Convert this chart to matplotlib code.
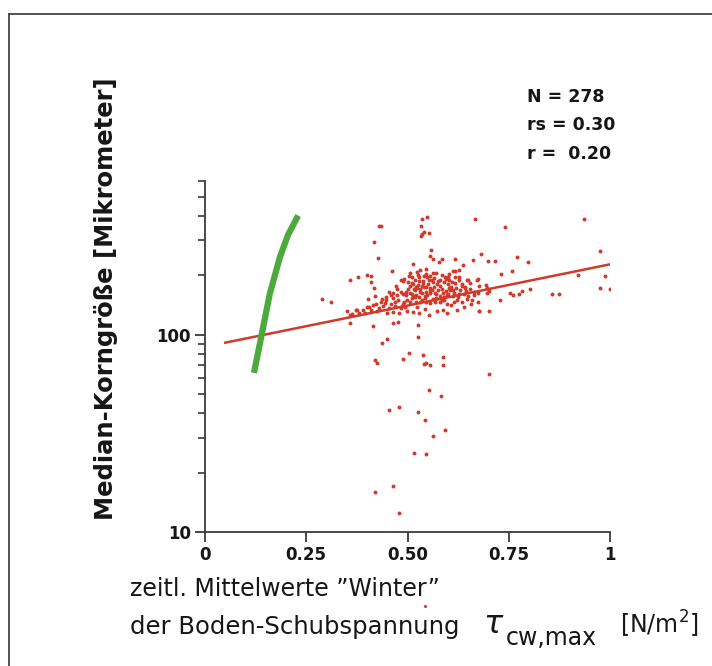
import matplotlib
matplotlib.use("Agg")
import matplotlib.pyplot as plt
from matplotlib.ticker import LogLocator, NullFormatter, FixedLocator
from matplotlib.lines import Line2D

plt.rcParams["font.family"] = ["DejaVu Sans"]

W, H = 712, 666

# scatter points: bottom shear stress (N/m2) vs median grain size (micrometer)
tau_x = [
    0.430, 0.434, 0.535, 0.547, 0.533, 0.535, 0.541, 0.552, 0.533, 0.667,
    0.741, 0.936, 0.418, 0.426, 0.557, 0.555, 0.564, 0.578, 0.584, 0.617,
    0.638, 0.661, 0.681, 0.698, 0.717, 0.770, 0.798, 0.975, 0.757, 0.730,
    0.920, 0.988, 0.975, 1.000, 0.856, 0.874, 0.802, 0.782, 0.760, 0.753,
    0.728, 0.700, 0.677, 0.700, 0.290, 0.310, 0.357, 0.378, 0.401, 0.409,
    0.411, 0.418, 0.462, 0.350, 0.357, 0.358, 0.375, 0.389, 0.399, 0.402,
    0.416, 0.436, 0.450, 0.465, 0.477, 0.420, 0.425, 0.488, 0.504, 0.525,
    0.526, 0.539, 0.541, 0.546, 0.556, 0.588, 0.588, 0.554, 0.583, 0.455,
    0.479, 0.527, 0.542, 0.593, 0.562, 0.516, 0.546, 0.465, 0.419, 0.480,
    0.513,
    # dense core (upper part)
    0.618, 0.628, 0.484, 0.489, 0.504, 0.512, 0.519, 0.527, 0.529, 0.538,
    0.548, 0.556, 0.560, 0.576, 0.595, 0.603, 0.618, 0.626, 0.648, 0.671,
    0.654, 0.472,
    0.545, 0.581, 0.602, 0.613, 0.634, 0.641, 0.496, 0.506, 0.521, 0.536,
    0.489, 0.474, 0.459, 0.447, 0.455, 0.626, 0.675, 0.663, 0.519, 0.524,
    0.556, 0.568, 0.588, 0.597,
    0.420, 0.436, 0.465, 0.477, 0.491, 0.506, 0.513, 0.529, 0.542, 0.556,
    0.568, 0.584, 0.597, 0.607, 0.615, 0.634, 0.646, 0.658, 0.675, 0.531,
    0.546, 0.447,
    0.362, 0.405, 0.414, 0.422, 0.434, 0.449, 0.465, 0.478, 0.498, 0.514,
    0.529, 0.552, 0.574, 0.587, 0.598, 0.621, 0.640, 0.677, 0.494, 0.523,
    0.543,
    0.505, 0.524, 0.528, 0.546, 0.552, 0.562, 0.492, 0.502, 0.514, 0.521,
    0.538, 0.541, 0.562, 0.572, 0.580, 0.593, 0.603, 0.613, 0.617, 0.626,
    0.634, 0.642, 0.650, 0.605, 0.601, 0.613, 0.621, 0.589, 0.580, 0.564,
    0.556, 0.543, 0.531, 0.519, 0.510, 0.498, 0.490,
    0.675, 0.676, 0.693, 0.697, 0.701, 0.696, 0.775,
    0.374, 0.430, 0.440, 0.425, 0.455, 0.460, 0.470, 0.485, 0.490, 0.380,
    0.395, 0.410, 0.445, 0.468,
    0.500, 0.505, 0.515, 0.525, 0.530, 0.535, 0.545, 0.550, 0.555, 0.560,
    0.565, 0.570, 0.575, 0.580, 0.585, 0.590, 0.595, 0.600, 0.607, 0.615,
    0.620, 0.625, 0.630, 0.640, 0.645, 0.650, 0.655, 0.660, 0.665, 0.520,
    0.535, 0.548, 0.570, 0.510, 0.497, 0.485, 0.475, 0.465, 0.540, 0.565,
    0.590, 0.585, 0.600, 0.610, 0.530, 0.545, 0.570, 0.510,
]
grain_y = [
    356, 357, 386, 395, 353, 324, 330, 327, 315, 387,
    349, 384, 295, 245, 269, 249, 242, 233, 242, 242,
    226, 238, 256, 236, 236, 247, 232, 265, 211, 203,
    200, 199, 173, 170, 161, 161, 171, 166, 158, 162,
    150, 131, 131, 63.5, 152, 147, 188, 196, 201, 197,
    185, 173, 209, 131, 126, 114, 134, 134, 138, 151,
    111, 91, 95, 114, 116, 74, 72, 75, 81, 97,
    112, 79, 71, 72, 70, 77, 70, 52.3, 48.6, 41.3,
    43, 40.6, 36.8, 33, 30.8, 25.0, 24.9, 17.2, 16.0, 12.5,
    227,
    211, 213, 190, 186, 199, 183, 189, 201, 186, 183,
    196, 199, 188, 186, 192, 189, 183, 196, 190, 190,
    182, 177,
    174, 177, 173, 169, 177, 172, 165, 163, 159, 163,
    161, 159, 158, 155, 165, 161, 163, 158, 168, 172,
    168, 163, 163, 158,
    157, 152, 153, 149, 146, 146, 157, 155, 153, 145,
    146, 149, 143, 141, 147, 146, 151, 143, 146, 146,
    147, 150,
    127, 138, 141, 143, 146, 128, 130, 128, 131, 130,
    128, 125, 131, 134, 129, 133, 138, 131, 138, 138,
    135,
    205, 207, 196, 203, 188, 205, 192, 185, 181, 174,
    187, 174, 185, 180, 188, 196, 203, 210, 196, 188,
    181, 174, 190, 169, 161, 157, 150, 155, 146, 152,
    162, 157, 164, 155, 161, 149, 143,
    192, 176, 179, 172, 167, 162, 161,
    133, 136, 140, 131, 137, 143, 140, 136, 142, 128,
    129, 133, 145, 147,
    170, 176, 170, 178, 170, 176, 165, 180, 173, 168,
    175, 160, 168, 157, 171, 150, 166, 180, 175, 162,
    172, 155, 168, 160, 166, 156, 171, 150, 165, 147,
    150, 158, 153, 153, 158, 165, 170, 162, 197, 193,
    185, 200, 195, 184, 212, 215, 206, 195,
]

# one point plotted below the axis in the original
stray_x = [0.543]
stray_y = [4.2]

# regression line (red) and limiting curve (green)
fit_x = [0.05, 1.0]
fit_y = [91, 227]
curve_x = [0.121, 0.140, 0.160, 0.185, 0.205, 0.230]
curve_y = [64, 100, 161, 247, 320, 401]

x_ticks = [0, 0.25, 0.5, 0.75, 1]
x_ticklabels = ["0", "0.25", "0.50", "0.75", "1"]
y_ticks = [10, 100]
y_ticklabels = ["10", "100"]

RED = "#d03a2a"
GREEN = "#4caa3c"
AXC = "#3a3a3a"
TXT = "#161616"


def fpos(px, py):
    return px / W, 1 - py / H


fig = plt.figure(figsize=(W / 100, H / 100), dpi=100)

# outer frame (only top and left edges visible)
fig.add_artist(Line2D([9 / W, 9 / W], [0, 1 - 14 / H], color="#444444", lw=1.3))
fig.add_artist(Line2D([9 / W, 1], [1 - 14 / H, 1 - 14 / H], color="#444444", lw=1.3))

ax = fig.add_axes([205 / W, (H - 532) / H, 405 / W, (532 - 181) / H])
ax.set_yscale("log")
ax.set_xlim(0, 1)
ax.set_ylim(10, 600)

ax.scatter(tau_x, grain_y, s=8, color=RED, marker="o", linewidths=0, zorder=3)
ax.scatter(stray_x, stray_y, s=5, color=RED, marker="o", linewidths=0,
           clip_on=False)
ax.plot(fit_x, fit_y, color=RED, lw=1.8, zorder=4)
ax.plot(curve_x, curve_y, color=GREEN, lw=4.5, solid_capstyle="butt", zorder=4)

for side in ["top", "right"]:
    ax.spines[side].set_visible(False)
for side in ["left", "bottom"]:
    ax.spines[side].set_color(AXC)
    ax.spines[side].set_linewidth(1.3)

ax.xaxis.set_major_locator(FixedLocator(x_ticks))
ax.set_xticklabels(x_ticklabels)
ax.yaxis.set_major_locator(FixedLocator(y_ticks))
ax.set_yticklabels(y_ticklabels)
ax.yaxis.set_minor_locator(LogLocator(base=10, subs=range(2, 10)))
ax.yaxis.set_minor_formatter(NullFormatter())
ax.tick_params(axis="both", which="major", length=7, width=1.3, color=AXC,
               labelsize=12, pad=3)
ax.tick_params(axis="y", which="minor", length=5, width=1.2, color=AXC)
for lab in ax.get_xticklabels() + ax.get_yticklabels():
    lab.set_fontweight("bold")
    lab.set_color(TXT)

ax.set_ylabel("Median-Korngröße [Mikrometer]", fontsize=17.5, fontweight="bold",
              color=TXT)
ax.yaxis.set_label_coords(-(205 - 118) / 405, (532 - 299) / 351)

# statistics
stats = ["N = 278", "rs = 0.30", "r =  0.20"]
for i, s in enumerate(stats):
    fig.text(*fpos(527, 97 + i * 28.5), s, fontsize=12.5, fontweight="bold",
             va="center", ha="left", color=TXT)

# x label, two lines
fig.text(*fpos(130, 596), "zeitl. Mittelwerte \u201dWinter\u201d", fontsize=17,
         va="baseline", ha="left", color=TXT)
fig.text(*fpos(130, 634), "der Boden-Schubspannung", fontsize=17.5,
         va="baseline", ha="left", color=TXT)
fig.text(*fpos(483, 633), r"$\tau$", fontsize=23, va="baseline", ha="left",
         color=TXT)
fig.text(*fpos(506, 645), "cw,max", fontsize=17, va="baseline", ha="left",
         color=TXT)
fig.text(*fpos(620, 634), r"[N/m$^{2}$]", fontsize=17, va="baseline", ha="left",
         color=TXT)

fig.savefig("out.png", dpi=100)
